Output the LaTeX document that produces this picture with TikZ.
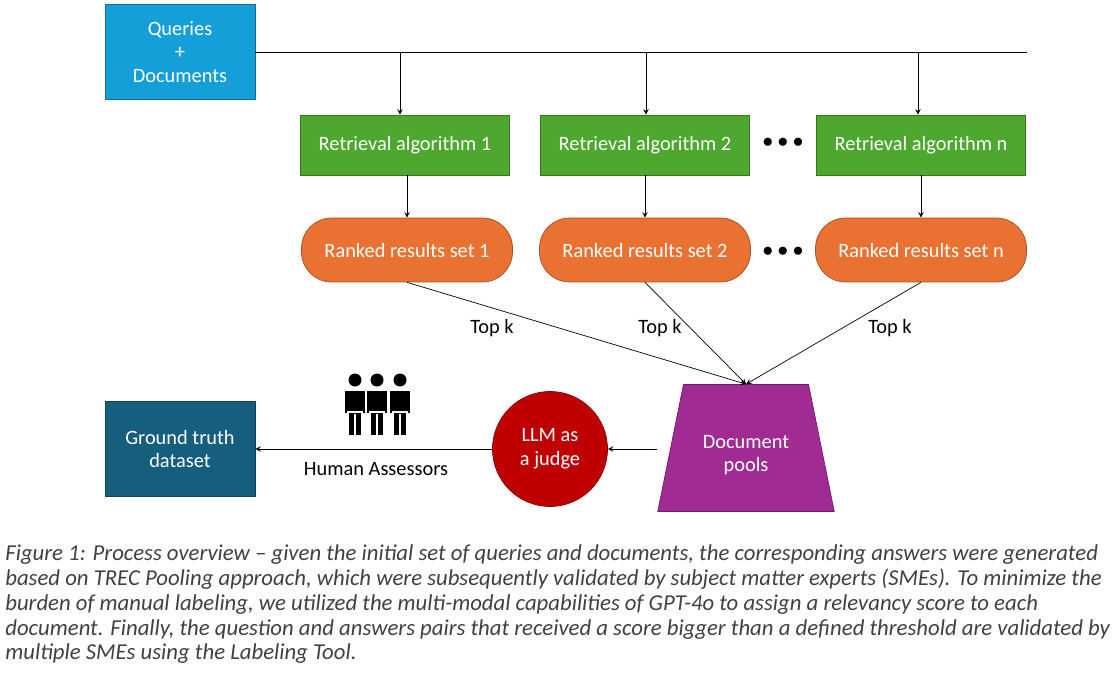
\documentclass[tikz,border=0pt]{standalone}
\usepackage{fontspec}
\setmainfont{Carlito}
\usetikzlibrary{shapes.geometric}
\begin{document}
\begin{tikzpicture}[x=0.02cm,y=-0.02cm,font=\fontsize{11.6}{13.5}\selectfont]
  % colors
  \definecolor{kBlue}{RGB}{21,159,216}
  \definecolor{kGreen}{RGB}{78,167,46}
  \definecolor{kOrange}{RGB}{233,113,50}
  \definecolor{kPurple}{RGB}{160,43,147}
  \definecolor{kRed}{RGB}{192,0,0}
  \definecolor{kTeal}{RGB}{22,94,126}
  \definecolor{kGrey}{RGB}{64,64,64}
  \tikzset{
    algo/.style={draw=kGreen!70!black,fill=kGreen,text=white,minimum width=4.18cm,minimum height=1.2cm},
    rank/.style={draw=kOrange!70!black,fill=kOrange,text=white,rounded corners=0.6cm,minimum width=4.22cm,minimum height=1.28cm},
    flow/.style={->,>=stealth}
  }
  \useasboundingbox (0,0) rectangle (1118,676);
  % inputs
  \node[draw=kBlue!70!black,fill=kBlue,text=white,minimum width=3cm,minimum height=1.9cm,align=center] (qd) at (180,52) {Queries\\+\\Documents};
  \coordinate (bus) at (1027,52);
  \draw (qd.east) -- (bus);
  % algorithms
  \node[algo] (a1) at (405,145) {Retrieval algorithm 1};
  \node[algo] (a2) at (645,145) {Retrieval algorithm 2};
  \node[algo] (an) at (921,145) {Retrieval algorithm n};
  \node (d1) at (783,143) {$\bullet\bullet\bullet$};
  \foreach \a/\x in {a1/400,a2/646,an/918}{
    \coordinate (t\a) at (\x,52);
    \draw[flow] (t\a) -- (t\a |- \a.north);
  }
  % ranked sets
  \node[rank] (r1) at (407,250) {Ranked results set 1};
  \node[rank] (r2) at (645,250) {Ranked results set 2};
  \node[rank] (rn) at (921,250) {Ranked results set n};
  \node (d2) at (783,252) {$\bullet\bullet\bullet$};
  \draw[flow] (r1.north |- a1.south) -- (r1);
  \draw[flow] (a2) -- (r2);
  \draw[flow] (an) -- (rn);
  % pool
  \node[trapezium,trapezium stretches=true,draw=kPurple!70!black,fill=kPurple,text=white,minimum width=3.56cm,minimum height=2.54cm,trapezium left angle=73,trapezium right angle=73,align=center] (pool) at (746,448) {\\[2pt]Document\\pools};
  \draw[flow] (r1.south) -- (pool.north);
  \draw[flow] (r2.south) -- (pool.north);
  \draw[flow] (rn.south) -- (pool.north);
  \node (k1) at (492,328) {Top k};
  \node (k2) at (660,328) {Top k};
  \node (kn) at (890,328) {Top k};
  % judge
  \node[circle,draw=kRed!70!black,fill=kRed,text=white,minimum size=2.3cm,align=center] (llm) at (550,449) {LLM as\\a judge};
  \node[draw=kTeal!70!black,fill=kTeal,text=white,minimum width=3cm,minimum height=1.9cm,align=center] (gt) at (180,449) {Ground truth\\dataset};
  \coordinate (pw) at (657,449);
  \draw[flow] (pw) -- (llm);
  \draw[flow] (llm) -- (gt);
  \node (ha) at (376,469) {Human Assessors};
  % people
  \foreach \x in {355,400,377}{
    \fill[black] (\x,380) circle (6.5);
    \fill[black,draw=white,thick] (\x-11,390) rectangle (\x+11,414);
    \fill[black,draw=white,thick] (\x-7,412) rectangle (\x+7,436);
    \draw[white,thick] (\x,414) -- (\x,436);
  }
  % caption
  \node[anchor=north west,align=left,text=kGrey,font=\fontsize{12.95}{14.2}\selectfont\itshape,inner sep=0pt] (cap) at (5,544) {Figure 1: Process overview -- given the initial set of queries and documents, the corresponding answers were generated\\based on TREC Pooling approach, which were subsequently validated by subject matter experts (SMEs). To minimize the\\burden of manual labeling, we utilized the multi-modal capabilities of GPT-4o to assign a relevancy score to each\\document. Finally, the question and answers pairs that received a score bigger than a defined threshold are validated by\\multiple SMEs using the Labeling Tool.};
\end{tikzpicture}
\end{document}
